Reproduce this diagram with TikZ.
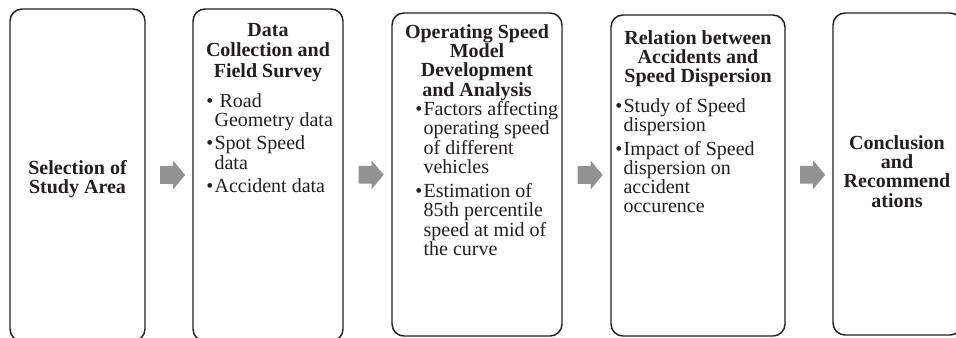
\documentclass[tikz,border=0pt]{standalone}
\usepackage{fontspec}
\setmainfont{Liberation Serif}
\usetikzlibrary{shapes.arrows}
\usetikzlibrary{calc}
\definecolor{arrowgray}{RGB}{146,146,146}
\definecolor{inkgray}{RGB}{35,31,32}

\begin{document}
\fontsize{15}{13.9}\selectfont
\begin{tikzpicture}[
    x=0.75pt, y=-0.75pt, text=inkgray,
    stage/.style={draw=inkgray, line width=1.1pt, rounded corners=9pt, inner sep=0pt},
    title/.style={font=\bfseries, anchor=base, inner sep=0pt},
    items/.style={anchor=base west, inner sep=0pt},
    flow/.style={single arrow, fill=arrowgray, draw=none, inner xsep=0pt, inner ysep=6.4pt,
      single arrow head extend=4.1pt, single arrow tip angle=100, minimum height=18.75pt},
    ]
  \def\px{0.75pt}
  \useasboundingbox (0,0) rectangle (956,337);
  \clip (0,0) rectangle (956,337);

  \node[stage, minimum width=135*\px, minimum height=332*\px] (s1) at (77.5,175) {};
  \node[stage, minimum width=150*\px, minimum height=332*\px] (s2) at (268,175) {};
  \node[stage, minimum width=170*\px, minimum height=323*\px] (s3) at (477,174.5) {};
  \node[stage, minimum width=174*\px, minimum height=321*\px] (s4) at (698,175.5) {};
  \node[stage, minimum width=129*\px, minimum height=322*\px] (s5) at (897.5,174) {};

  \node[title] (t1) at (77.5,174) {\begin{tabular}[t]{@{}c@{}}Selection of\\Study Area\end{tabular}};
  \node[title] (t2) at (268,36) {\begin{tabular}[t]{@{}c@{}}Data\\[1pt]Collection and\\[1pt]Field Survey\end{tabular}};
  \node[title] (t3) at (477,38) {\begin{tabular}[t]{@{}c@{}}Operating Speed\\Model\\Development\\and Analysis\end{tabular}};
  \node[title] (t4) at (698,44) {\begin{tabular}[t]{@{}c@{}}Relation between\\Accidents and\\Speed Dispersion\end{tabular}};
  \node[title] (t5) at (897,149) {\begin{tabular}[t]{@{}c@{}}Conclusion\\and\\Recommend\\ations\end{tabular}};

  \node[items] (l2) at (206,107) {\begin{tabular}[t]{@{}l@{\hspace{1pt}}l@{}}
    \textbullet & \ Road\\
    & Geometry data\\[3pt]
    \textbullet & Spot Speed\\
    & data\\[3pt]
    \textbullet & Accident data
  \end{tabular}};
  \node[items] (l3) at (415,115) {\begin{tabular}[t]{@{}l@{\hspace{1pt}}l@{}}
    \textbullet & Factors affecting\\
    & operating speed\\
    & of different\\
    & vehicles\\[3pt]
    \textbullet & Estimation of\\
    & 85th percentile\\
    & speed at mid of\\
    & the curve
  \end{tabular}};
  \node[items] (l4) at (615,112) {\begin{tabular}[t]{@{}l@{\hspace{1pt}}l@{}}
    \textbullet & Study of Speed\\
    & dispersion\\[3pt]
    \textbullet & Impact of Speed\\
    & dispersion on\\
    & accident\\
    & occurence
  \end{tabular}};

  % block arrows between the stages
  \node[flow] (a1) at ($(s1.east)!0.5!(s2.west)$) {};
  \node[flow] (a2) at ($(s2.east)!0.5!(s3.west)$) {};
  \node[flow] (a3) at ($(s3.east)!0.5!(s4.west)$) {};
  \node[flow] (a4) at ($(s4.east)!0.5!(s5.west)$) {};
\end{tikzpicture}
\end{document}
